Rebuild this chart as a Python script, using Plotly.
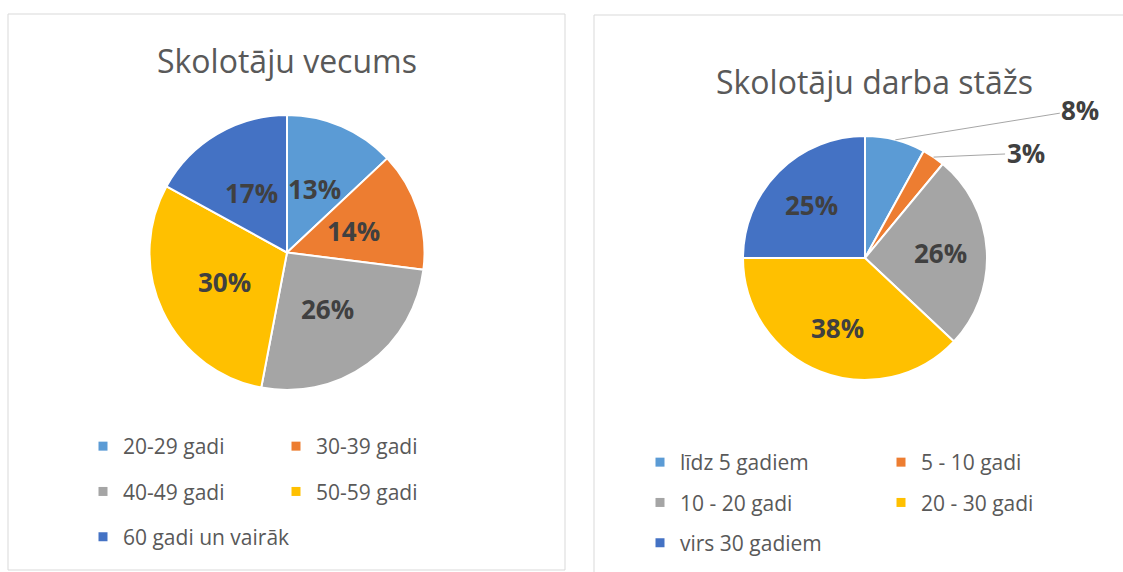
import math
import plotly.graph_objects as go

W, H = 1123, 572

# ---- data ----
age_title = "Skolotāju vecums"
age_labels = ["20-29 gadi", "30-39 gadi", "40-49 gadi", "50-59 gadi", "60 gadi un vairāk"]
age_values = [13, 14, 26, 30, 17]

exp_title = "Skolotāju darba stāžs"
exp_labels = ["līdz 5 gadiem", "5 - 10 gadi", "10 - 20 gadi", "20 - 30 gadi", "virs 30 gadiem"]
exp_values = [8, 3, 26, 38, 25]
exp_outside = [True, True, False, False, False]

colors = ["#5B9BD5", "#ED7D31", "#A5A5A5", "#FFC000", "#4472C4"]

FONT = "Open Sans"
TXT = "#595959"
LBL = "#404040"


def px_dom(x0, x1, y0, y1):
    return dict(x=[x0 / W, x1 / W], y=[1 - y1 / H, 1 - y0 / H])


left_dom = px_dom(148, 426, 115, 390)
right_dom = px_dom(743, 987, 136, 380)

fig = go.Figure()

for labels, values, dom in [(age_labels, age_values, left_dom), (exp_labels, exp_values, right_dom)]:
    fig.add_trace(go.Pie(
        labels=labels, values=values, sort=False, direction="clockwise", rotation=0,
        domain=dom, marker=dict(colors=colors, line=dict(color="white", width=2)),
        textinfo="none", showlegend=False, hoverinfo="label+percent",
    ))


# ---- data labels placed along each slice's bisector ----
def slice_labels(values, dom, frac, outside=None, offsets=None):
    R = (dom["x"][1] - dom["x"][0]) * W / 2
    cx = (dom["x"][0] + dom["x"][1]) / 2
    cy = (dom["y"][0] + dom["y"][1]) / 2
    total = sum(values)
    cum = 0
    k = 0
    for i, v in enumerate(values):
        mid = (cum + v / 2) / total * 2 * math.pi
        cum += v
        is_out = outside[i] if outside else False
        r = R if is_out else R * frac
        x = cx + r * math.sin(mid) / W
        y = cy + r * math.cos(mid) / H
        if is_out:
            ax, ay = offsets[k]
            k += 1
            fig.add_annotation(
                x=x, y=y, xref="paper", yref="paper", text=f"<b>{v}%</b>",
                showarrow=True, arrowhead=0, arrowwidth=1, arrowcolor="#A6A6A6",
                ax=ax, ay=ay, standoff=0,
                font=dict(family=FONT, size=26, color=LBL),
            )
        else:
            fig.add_annotation(
                x=x, y=y, xref="paper", yref="paper", text=f"<b>{v}%</b>",
                xanchor="center", yanchor="middle", showarrow=False,
                font=dict(family=FONT, size=26, color=LBL),
            )


slice_labels(age_values, left_dom, 0.5)
slice_labels(exp_values, right_dom, 0.62, exp_outside, [(185, -30), (92, -4)])


# ---- legends (two columns per panel) ----
def legend_entries(labels, cols, legend_names):
    for i, (lab, col) in enumerate(zip(labels, cols)):
        fig.add_trace(go.Scatter(
            x=[None], y=[None], mode="markers", name=lab,
            marker=dict(symbol="square", size=9, color=col),
            legend=legend_names[i % 2], legendgroup=lab, showlegend=True,
        ))


legend_entries(age_labels, colors, ["legend", "legend2"])
legend_entries(exp_labels, colors, ["legend3", "legend4"])


def leg(x_px, y_px, gap):
    return dict(x=x_px / W, y=1 - y_px / H, xanchor="left", yanchor="top",
                orientation="v", tracegroupgap=gap, bgcolor="rgba(0,0,0,0)",
                font=dict(family=FONT, size=21, color=TXT), itemwidth=30)


LEFT_GAP = 15
RIGHT_GAP = 10
fig.update_layout(
    legend=leg(83, 426, LEFT_GAP),
    legend2=leg(276, 426, LEFT_GAP),
    legend3=leg(640, 442, RIGHT_GAP),
    legend4=leg(881, 442, RIGHT_GAP),
)

# ---- titles ----
fig.add_annotation(x=287 / W, y=1 - 60 / H, xref="paper", yref="paper", text=age_title,
                   xanchor="center", yanchor="middle",
                   showarrow=False, font=dict(family=FONT, size=32, color=TXT))
fig.add_annotation(x=874 / W, y=1 - 82 / H, xref="paper", yref="paper", text=exp_title,
                   xanchor="center", yanchor="middle",
                   showarrow=False, font=dict(family=FONT, size=32, color=TXT))

# ---- panel borders ----
fig.add_shape(type="rect", xref="paper", yref="paper", x0=8 / W, x1=565 / W,
              y0=1 - 570 / H, y1=1 - 14 / H, line=dict(color="#D9D9D9", width=1))
fig.add_shape(type="rect", xref="paper", yref="paper", x0=594 / W, x1=1140 / W,
              y0=-0.1, y1=1 - 15 / H, line=dict(color="#D9D9D9", width=1))

fig.update_layout(
    width=W, height=H, margin=dict(l=0, r=0, t=0, b=0),
    paper_bgcolor="white", plot_bgcolor="white",
    xaxis=dict(visible=False), yaxis=dict(visible=False),
    font=dict(family=FONT, color=TXT),
)

fig.write_html(
    "out.html",
    config={"displayModeBar": False},
    post_script="document.body.style.margin='0';document.body.style.overflow='hidden';",
)
